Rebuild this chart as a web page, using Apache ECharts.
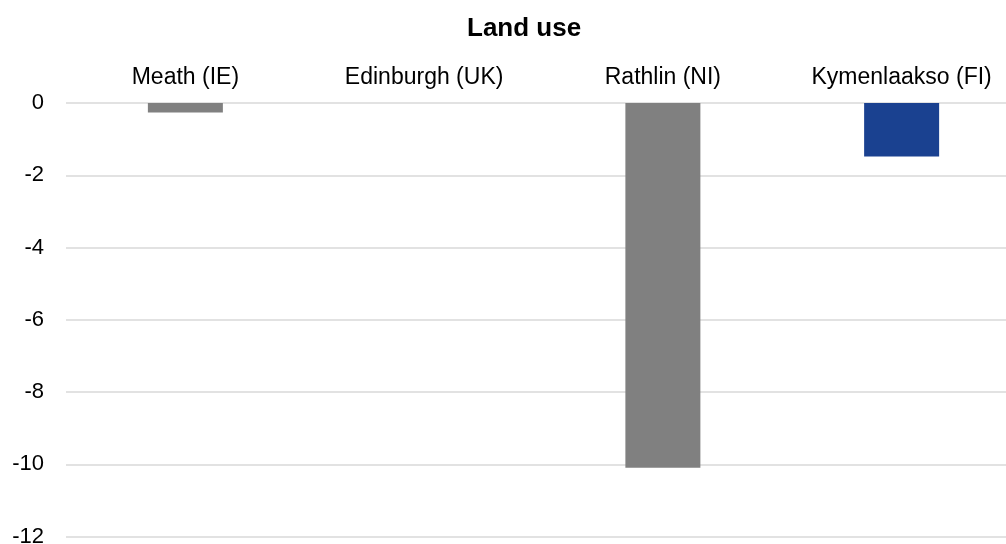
<!DOCTYPE html>
<html>
<head>
<meta charset="utf-8">
<title>Land use</title>
<script src="https://cdn.jsdelivr.net/npm/echarts@6/dist/echarts.min.js"></script>
<style>
  html, body { margin: 0; padding: 0; background: #ffffff; }
  #chart { width: 1006px; height: 544px; }
</style>
</head>
<body>
<div id="chart"></div>
<script>
// Regions shown along the top axis
const regions = ['Meath (IE)', 'Edinburgh (UK)', 'Rathlin (NI)', 'Kymenlaakso (FI)'];
// Land use change per region
const landUse = [-0.26, 0, -10.1, -1.48];
// Bar colour per region
const barColors = ['#808080', '#808080', '#808080', '#1a4190'];

const chart = echarts.init(document.getElementById('chart'));
const font = '"Liberation Sans", Arial, sans-serif';

chart.setOption({
  animation: false,
  title: {
    text: 'Land use',
    left: 462,
    top: 11,
    textStyle: { fontFamily: font, fontSize: 26, fontWeight: 'bold', color: '#000' }
  },
  // The plot runs slightly past the right edge of the canvas
  grid: { left: 66, top: 103, width: 955, height: 433.5, containLabel: false, outerBoundsMode: 'none' },
  xAxis: {
    type: 'category',
    position: 'top',
    data: regions,
    axisLine: { show: false },
    axisTick: { show: false },
    axisLabel: { fontFamily: font, fontSize: 23, color: '#000', margin: 14, interval: 0 }
  },
  yAxis: {
    type: 'value',
    min: -12,
    max: 0,
    interval: 2,
    axisLine: { show: false },
    axisTick: { show: false },
    axisLabel: { fontFamily: font, fontSize: 22, color: '#000', margin: 22 },
    splitLine: { lineStyle: { color: '#d9d9d9', width: 1.5 } }
  },
  series: [{
    type: 'bar',
    data: landUse.map((v, i) => ({ value: v, itemStyle: { color: barColors[i] } })),
    barWidth: 75
  }]
});
</script>
</body>
</html>
